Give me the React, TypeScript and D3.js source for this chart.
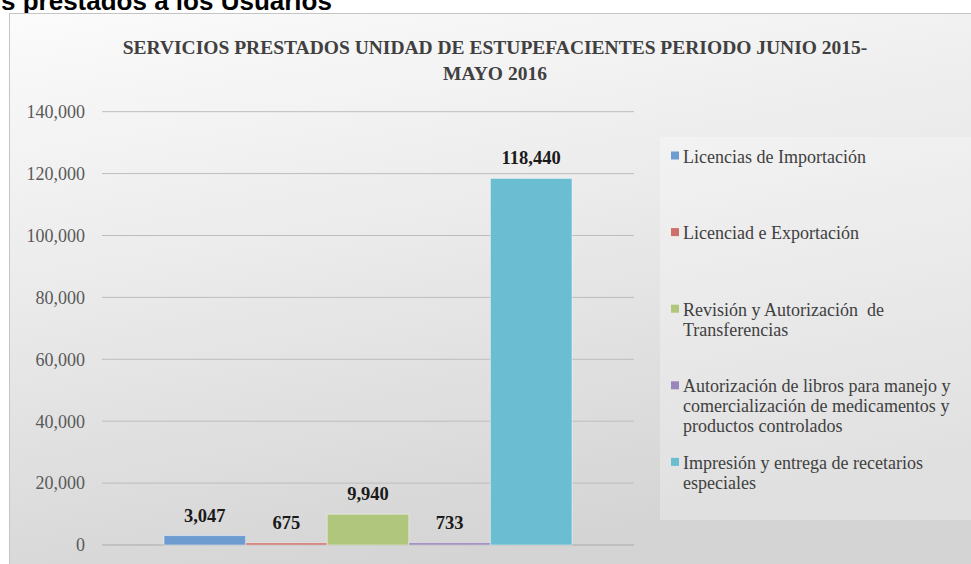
import React from "react";
import * as d3 from "d3";

// chart data
const CATEGORIES = ["Servicios"];
const SERIES = [
  "Licencias de Importación",
  "Licenciad e Exportación",
  "Revisión y Autorización  de\nTransferencias",
  "Autorización de libros para manejo y\ncomercialización de medicamentos y\nproductos controlados",
  "Impresión y entrega de recetarios\nespeciales",
];
const VALUES = [3047, 675, 9940, 733, 118440];
const COLORS = ["#6e9bd0", "#cf6f6a", "#afc67c", "#9a86bb", "#6bbdd2"];
const Y_TICKS = [0, 20000, 40000, 60000, 80000, 100000, 120000, 140000];
const TITLE = [
  "SERVICIOS PRESTADOS UNIDAD DE ESTUPEFACIENTES PERIODO JUNIO 2015-",
  "MAYO 2016",
];

const W = 971;
const H = 564;
const SERIF = "'Liberation Serif', 'DejaVu Serif', serif";

function App() {
  const plot = { left: 102, right: 634, top: 111.7, bottom: 545 };

  const y = d3.scaleLinear().domain([0, 140000]).range([plot.bottom, plot.top]);
  const x0 = d3
    .scaleBand()
    .domain(CATEGORIES)
    .range([plot.left, plot.right])
    .paddingInner(0)
    .paddingOuter(0.152);
  const x1 = d3
    .scaleBand()
    .domain(SERIES)
    .range([0, x0.bandwidth()])
    .padding(0);
  const fmt = d3.format(",");

  // legend spacing
  const legendY = d3.scaleLinear().domain([0, 1]).range([162.5, 239.1]);

  return (
    <div>
      <style>{`body{margin:0}`}</style>
      <svg width={W} height={H} style={{ display: "block" }}>
        <defs>
          <linearGradient id="bg" x1="0" y1="0" x2="0.3" y2="1">
            <stop offset="0" stopColor="#fbfbfb" />
            <stop offset="0.45" stopColor="#ebebeb" />
            <stop offset="1" stopColor="#d4d4d4" />
          </linearGradient>
        </defs>
        <rect x={0} y={0} width={W} height={H} fill="#fff" />

        {/* page heading, cut off by the crop */}
        <text
          x={1}
          y={9.5}
          fontFamily="'Liberation Sans', Arial, sans-serif"
          fontWeight="bold"
          fontSize={26}
          fill="#000"
        >
          s prestados a los Usuarios
        </text>

        {/* chart frame */}
        <rect
          x={9.5}
          y={13.5}
          width={W + 10}
          height={H + 10}
          fill="url(#bg)"
          stroke="#c4c4c4"
        />

        {/* title */}
        {TITLE.map((t, i) => (
          <text
            key={i}
            x={495}
            y={54 + i * 26}
            textAnchor="middle"
            fontFamily={SERIF}
            fontWeight="bold"
            fontSize={19.5}
            fill="#404040"
          >
            {t}
          </text>
        ))}

        {/* grid + y labels */}
        {Y_TICKS.map((t) => (
          <g key={t}>
            <line
              x1={plot.left}
              x2={plot.right}
              y1={y(t)}
              y2={y(t)}
              stroke={t === 0 ? "#a8a8a8" : "#bdbdbd"}
              strokeWidth={1}
            />
            <text
              x={85}
              y={y(t)}
              dy="0.35em"
              textAnchor="end"
              fontFamily={SERIF}
              fontSize={18}
              fill="#595959"
            >
              {fmt(t)}
            </text>
          </g>
        ))}

        {/* bars */}
        {CATEGORIES.map((c) => (
          <g key={c} transform={`translate(${x0(c)},0)`}>
            {SERIES.map((s, i) => (
              <g key={s}>
                <rect
                  x={x1(s)}
                  y={y(VALUES[i])}
                  width={x1.bandwidth()}
                  height={y(0) - y(VALUES[i])}
                  fill={COLORS[i]}
                  stroke="rgba(255,255,255,0.45)"
                  strokeWidth={1}
                />
                <text
                  x={(x1(s) as number) + x1.bandwidth() / 2}
                  y={y(VALUES[i]) - 14}
                  textAnchor="middle"
                  fontFamily={SERIF}
                  fontWeight="bold"
                  fontSize={18.5}
                  fill="#1a1a1a"
                >
                  {fmt(VALUES[i])}
                </text>
              </g>
            ))}
          </g>
        ))}

        {/* legend */}
        <rect x={660} y={137} width={320} height={383} fill="#ffffff" opacity={0.28} />
        {SERIES.map((s, i) => {
          const by = legendY(i);
          return (
            <g key={s}>
              <rect x={671} y={by - 11} width={8} height={8} fill={COLORS[i]} />
              <text fontFamily={SERIF} fontSize={18} fill="#404040">
                {s.split("\n").map((line, j) => (
                  <tspan key={j} x={683} y={by + j * 20} style={{ whiteSpace: "pre" }}>
                    {line}
                  </tspan>
                ))}
              </text>
            </g>
          );
        })}
      </svg>
    </div>
  );
}

export default App;
